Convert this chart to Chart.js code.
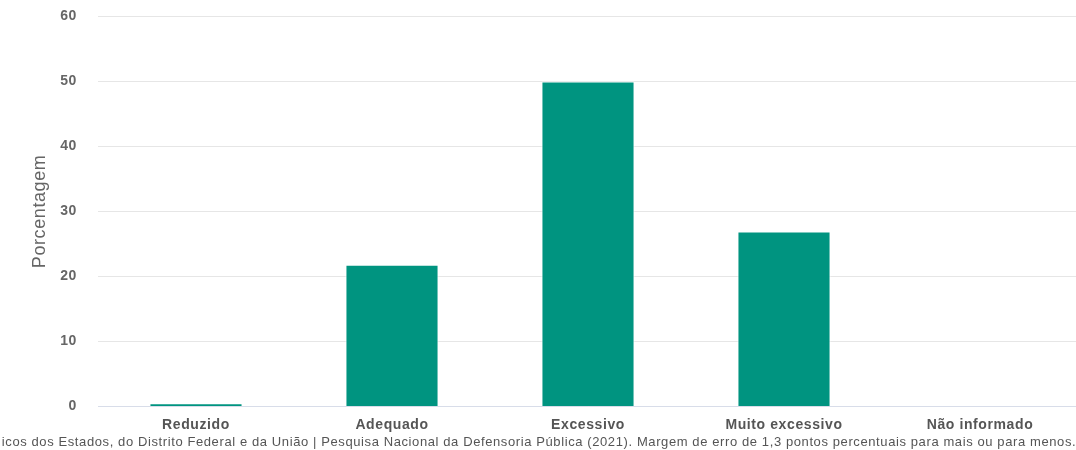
<!DOCTYPE html>
<html>
<head>
<meta charset="utf-8">
<script src="https://cdn.jsdelivr.net/npm/chart.js@4/dist/chart.umd.min.js"></script>
<style>
  html, body { margin: 0; padding: 0; background: #ffffff; overflow: hidden; }
  #wrap { position: relative; width: 1078px; height: 450px; overflow: hidden; }
  #c { position: absolute; left: 0; top: -13px; }
</style>
</head>
<body>
<div id="wrap"><canvas id="c" width="1078" height="463"></canvas></div>
<script>
const categories = ["Reduzido", "Adequado", "Excessivo", "Muito excessivo", "Não informado"];
const values = [0.5, 21.8, 50.0, 26.9, 0];
const yTicks = [0, 10, 20, 30, 40, 50, 60];
const yTitle = "Porcentagem";
const footer = "icos dos Estados, do Distrito Federal e da União | Pesquisa Nacional da Defensoria Pública (2021). Margem de erro de 1,3 pontos percentuais para mais ou para menos.";

const FONT = "'Liberation Sans', Arial, sans-serif";

const spacing = {
  id: 'spacing',
  beforeUpdate(chart) { chart.ctx.letterSpacing = '0.6px'; },
  beforeLayout(chart) { chart.ctx.letterSpacing = '0.6px'; },
  beforeDraw(chart) { chart.ctx.letterSpacing = '0.6px'; }
};

new Chart(document.getElementById('c'), {
  type: 'bar',
  plugins: [spacing],
  data: {
    labels: categories,
    datasets: [{
      data: values,
      backgroundColor: '#009480',
      borderColor: '#ffffff',
      borderWidth: 1,
      barPercentage: 0.475,
      categoryPercentage: 1.0
    }]
  },
  options: {
    responsive: false,
    animation: false,
    devicePixelRatio: 1,
    layout: { autoPadding: false, padding: { top: 16, right: 0, bottom: 0, left: 0 } },
    plugins: {
      legend: { display: false },
      tooltip: { enabled: false },
      title: {
        display: true,
        position: 'bottom',
        align: 'center',
        text: footer,
        color: '#555555',
        font: { family: FONT, size: 13, weight: 'normal' },
        padding: { top: 0, bottom: 0 }
      }
    },
    scales: {
      x: {
        afterFit: (scale) => { scale.height = 28; },
        grid: { display: false, drawTicks: false },
        border: { display: true, color: '#d8dde9', width: 1 },
        ticks: {
          color: '#555555',
          font: { family: FONT, size: 14, weight: 'bold' },
          padding: 10,
          maxRotation: 0,
          autoSkip: false
        }
      },
      y: {
        min: 0,
        max: 60,
        afterBuildTicks: (scale) => { scale.ticks = yTicks.map(v => ({ value: v })); },
        afterFit: (scale) => { scale.width = 98; },
        grid: { color: '#e6e6e6', drawTicks: false, lineWidth: 1 },
        border: { display: false },
        ticks: {
          color: '#666666',
          font: { family: FONT, size: 14, weight: 'bold' },
          padding: 21
        },
        title: {
          display: true,
          text: yTitle,
          color: '#666666',
          font: { family: FONT, size: 18, weight: 'normal' },
          padding: { top: 29, bottom: 0 }
        }
      }
    }
  }
});
</script>
</body>
</html>
